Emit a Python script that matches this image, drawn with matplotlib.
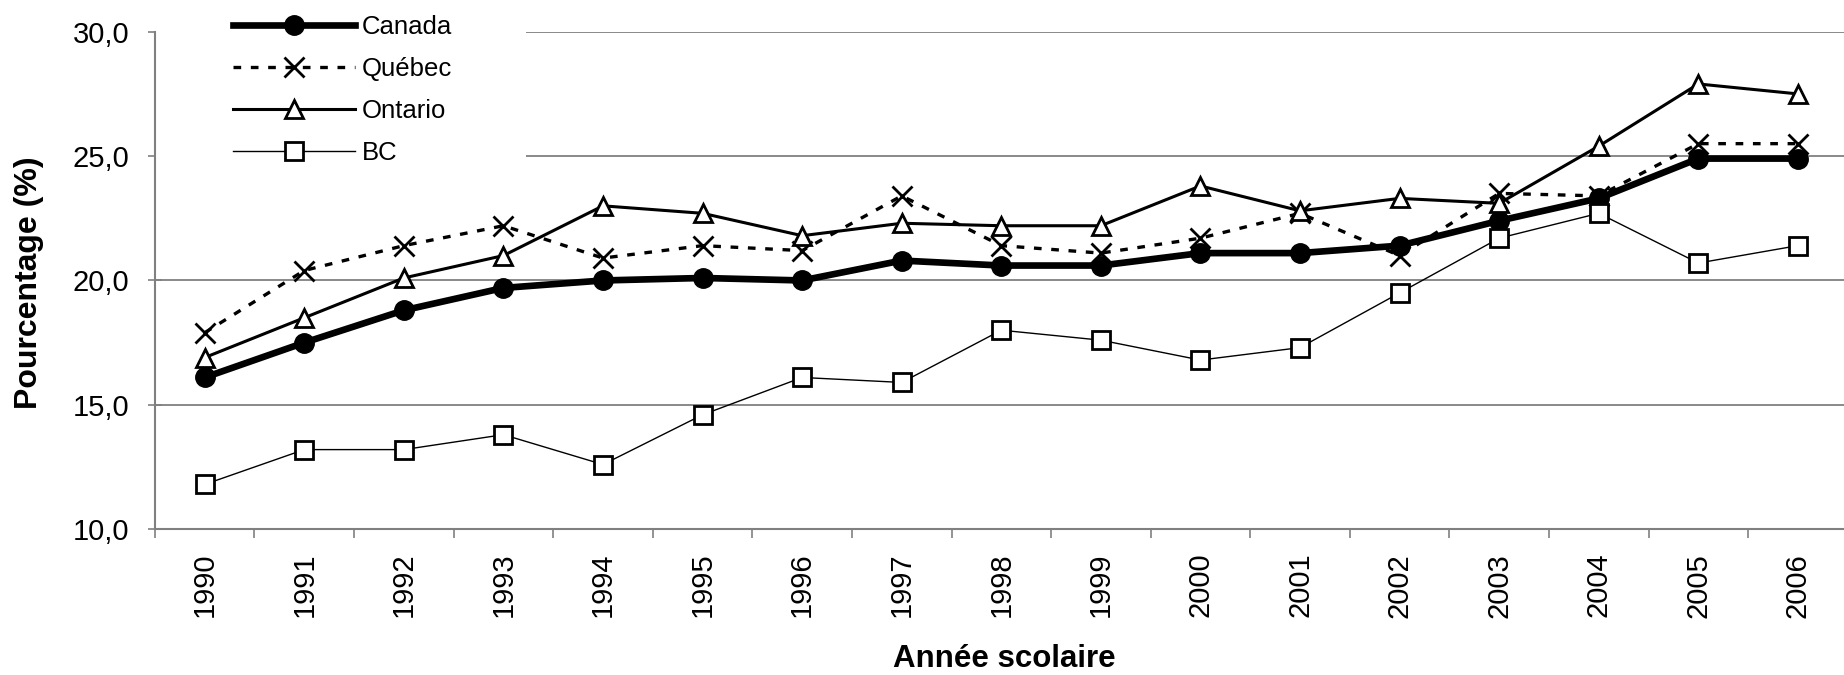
import numpy as np
import matplotlib.pyplot as plt
from matplotlib.patches import Rectangle

plt.rcParams['font.family'] = ['Liberation Sans', 'DejaVu Sans']

# Data
years   = ["1990","1991","1992","1993","1994","1995","1996","1997","1998",
           "1999","2000","2001","2002","2003","2004","2005","2006"]
canada  = [16.1, 17.5, 18.8, 19.7, 20.0, 20.1, 20.0, 20.8, 20.6, 20.6, 21.1, 21.1, 21.4, 22.4, 23.3, 24.9, 24.9]
quebec  = [17.9, 20.4, 21.4, 22.2, 20.9, 21.4, 21.2, 23.4, 21.4, 21.1, 21.7, 22.7, 21.0, 23.5, 23.4, 25.5, 25.5]
ontario = [16.9, 18.5, 20.1, 21.0, 23.0, 22.7, 21.8, 22.3, 22.2, 22.2, 23.8, 22.8, 23.3, 23.1, 25.4, 27.9, 27.5]
bc      = [11.8, 13.2, 13.2, 13.8, 12.6, 14.6, 16.1, 15.9, 18.0, 17.6, 16.8, 17.3, 19.5, 21.7, 22.7, 20.7, 21.4]
labels  = ["Canada", "Québec", "Ontario", "BC"]
yticks       = [10, 15, 20, 25, 30]
ytick_labels = ["10,0", "15,0", "20,0", "25,0", "30,0"]

grey = '#808080'

fig = plt.figure(figsize=(18.44, 6.75), dpi=100)
ax = fig.add_axes([0.084, 0.216, 0.918, 0.737])
x = np.arange(len(years))

# Series
l1, = ax.plot(x, canada, color='k', lw=4.8, marker='o', ms=14, mfc='k', mec='k')
l2, = ax.plot(x, quebec, color='k', lw=2.4, ls=(0, (2.3, 2.9)), marker='x', ms=14, mew=2.0, mec='k')
l3, = ax.plot(x, ontario, color='k', lw=2.2, marker='^', ms=13, mfc='white', mec='k', mew=2.0)
l4, = ax.plot(x, bc, color='k', lw=1.0, marker='s', ms=12.5, mfc='white', mec='k', mew=2.0)

# Axes
ax.set_xlim(-0.5, len(years) - 0.5)
ax.set_ylim(10, 30)
ax.set_yticks(yticks)
ax.set_yticklabels(ytick_labels, fontsize=21)
ax.tick_params(axis='y', direction='inout', length=10, width=1.2, color=grey, pad=13.5)
ax.set_xticks(x)
ax.set_xticklabels(years, rotation=90, fontsize=21)
ax.set_xticks(np.arange(len(years) + 1) - 0.5, minor=True)
ax.tick_params(axis='x', which='major', length=0, pad=17)
ax.tick_params(axis='x', which='minor', direction='out', length=6.5, width=1.2, color=grey)

ax.set_axisbelow(True)
ax.grid(axis='y', color=grey, lw=1.3)
for s in ['top', 'right']:
    ax.spines[s].set_visible(False)
for s in ['left', 'bottom']:
    ax.spines[s].set_color(grey)
    ax.spines[s].set_linewidth(1.5)

fig.text(0.0155, 0.581, "Pourcentage (%)", rotation=90, ha='center', va='center',
         fontsize=23, fontweight='bold')
ax.set_xlabel("Année scolaire", fontsize=22.5, fontweight='bold')
ax.xaxis.set_label_coords(0.502, -0.231)

# Legend area blanks out the gridlines
ax.add_patch(Rectangle((0, 0.72), 0.219, 0.35, transform=ax.transAxes,
                       facecolor='white', edgecolor='none', zorder=1, clip_on=False))
ax.legend([l1, l2, l3, l4], labels, loc='upper left', bbox_to_anchor=(0.1263, 0.978),
          bbox_transform=fig.transFigure, frameon=False, fontsize=18.5, numpoints=1,
          handlelength=4.75, handletextpad=0.27, labelspacing=0.70,
          borderpad=0, borderaxespad=0)

plt.savefig("out.png", dpi=100)
